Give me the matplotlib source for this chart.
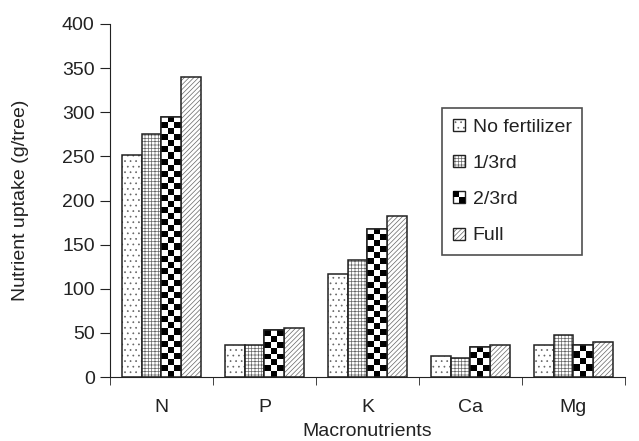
import numpy as np
import matplotlib
matplotlib.use("Agg")
import matplotlib.pyplot as plt
from matplotlib.patches import Rectangle
from matplotlib.legend_handler import HandlerBase

plt.rcParams['font.family'] = ['Liberation Sans', 'DejaVu Sans']
plt.rcParams['hatch.linewidth'] = 0.5

categories = ["N", "P", "K", "Ca", "Mg"]
series = ["No fertilizer", "1/3rd", "2/3rd", "Full"]
no_fert = [251, 36, 117, 24, 36]
third = [275, 36, 133, 22, 48]
two_third = [295, 53, 168, 34, 36]
full = [340, 55, 182, 36, 40]
values = [no_fert, third, two_third, full]
yticks = [0, 50, 100, 150, 200, 250, 300, 350, 400]

FS = 14
TXT = '#222222'
fig = plt.figure(figsize=(6.39, 4.41), dpi=100)
ax = fig.add_axes([0.172, 0.1451, 0.806, 0.8005])

x = np.arange(len(categories))
w = 0.19
offsets = np.array([-1.5, -0.5, 0.5, 1.5]) * w
hatches = ['...', '+++++', None, '///////']
HC = matplotlib.colors.to_rgba('#666666')
containers = []
checker_bars = []
for i, (name, vals) in enumerate(zip(series, values)):
    bars = ax.bar(x + offsets[i], vals, w, facecolor='white', edgecolor='#222222',
                  linewidth=1.1, hatch=hatches[i], label=name, zorder=2)
    for b in bars:
        b._hatch_color = HC
    containers.append(bars)
    if i == 2:
        checker_bars = list(bars)

ax.set_xlim(-0.5, 4.5)
ax.set_ylim(0, 400)
fig.canvas.draw()

p0 = ax.transData.transform((0, 0))
p1 = ax.transData.transform((1, 1))
sx, sy = p1[0] - p0[0], p1[1] - p0[1]
cell = 6.0
for b in checker_bars:
    x0, y0 = b.get_x(), b.get_y()
    bw, bh = b.get_width(), b.get_height()
    ncols = max(1, int(round(bw * sx / cell)))
    nrows = max(1, int(round(bh * sy / cell)))
    arr = (np.add.outer(np.arange(nrows), np.arange(ncols)) % 2).astype(float)
    im = ax.imshow(arr, cmap='gray_r', vmin=0, vmax=1, extent=(x0, x0 + bw, y0, y0 + bh),
                   origin='lower', interpolation='nearest', aspect='auto', zorder=2.5)
    im.set_clip_path(b)
    ax.add_patch(Rectangle((x0, y0), bw, bh, facecolor='none', edgecolor='#222222',
                           linewidth=1.1, zorder=3))
ax.set_xlim(-0.5, 4.5)
ax.set_ylim(0, 400)
ax.set_aspect('auto')

ax.spines['top'].set_visible(False)
ax.spines['right'].set_visible(False)
ax.spines['left'].set_color('#222222')
ax.spines['bottom'].set_color('#222222')
ax.set_yticks(yticks)
ax.set_xticks(x)
ax.set_xticklabels(categories)
ax.set_xticks(np.arange(len(categories) + 1) - 0.5, minor=True)
ax.tick_params(axis='x', which='major', length=0, pad=15.5, labelsize=FS, labelcolor=TXT)
ax.tick_params(axis='x', which='minor', length=6, direction='out', color='#222222')
ax.tick_params(axis='y', length=7, direction='out', labelsize=FS, color='#222222',
               labelcolor=TXT, pad=4)
ax.set_xlabel("Macronutrients", fontsize=FS, labelpad=5.5, color=TXT)
ax.set_ylabel("Nutrient uptake (g/tree)", fontsize=FS, labelpad=24, color=TXT)


class SquareHandler(HandlerBase):
    def __init__(self, hatch=None, checker=False):
        super().__init__()
        self.hatch = hatch
        self.checker = checker

    def create_artists(self, legend, orig_handle, xdescent, ydescent, width, height, fontsize, trans):
        s = min(width, height)
        x0 = -xdescent
        y0 = -ydescent + (height - s) / 2
        box = Rectangle((x0, y0), s, s, facecolor='white', edgecolor='#222222', lw=1.0,
                        hatch=self.hatch)
        box._hatch_color = HC
        arts = [box]
        if self.checker:
            h = s / 2
            arts += [Rectangle((x0, y0 + h), h, h, facecolor='black', edgecolor='none'),
                     Rectangle((x0 + h, y0), h, h, facecolor='black', edgecolor='none')]
        for a in arts:
            a.set_transform(trans)
        return arts


hmap = {containers[0]: SquareHandler(hatches[0]), containers[1]: SquareHandler(hatches[1]),
        containers[2]: SquareHandler(None, checker=True), containers[3]: SquareHandler(hatches[3])}
leg = ax.legend(containers, series, handler_map=hmap, loc='upper left',
                bbox_to_anchor=(0.645, 0.762), borderaxespad=0, fontsize=FS, frameon=True,
                fancybox=False, edgecolor='#222222', handlelength=0.62, handleheight=0.62,
                handletextpad=0.4, labelspacing=0.98, borderpad=0.55, labelcolor=TXT)
leg.get_frame().set_linewidth(1.2)

fig.savefig("out.png", dpi=100)
